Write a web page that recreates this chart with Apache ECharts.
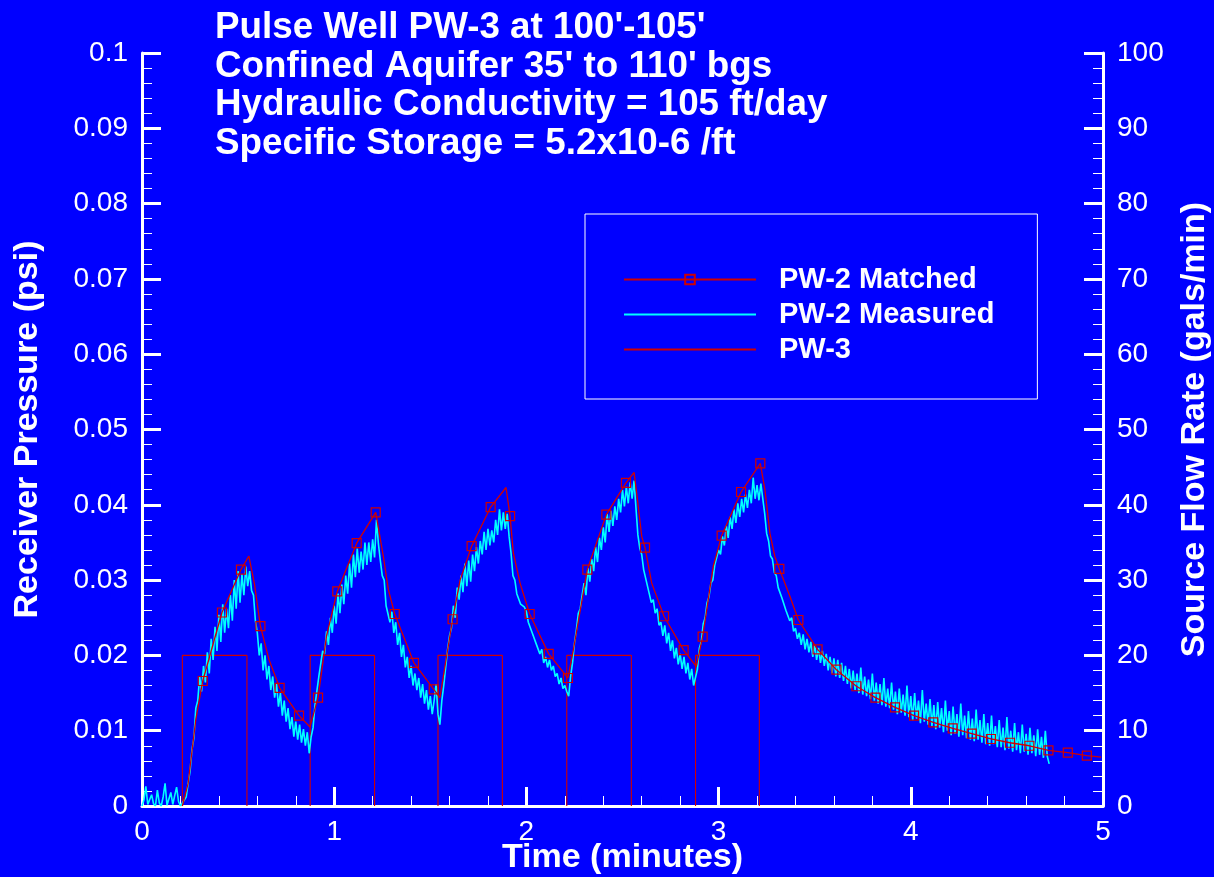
<!DOCTYPE html>
<html><head><meta charset="utf-8">
<script src="https://cdn.jsdelivr.net/npm/echarts@6/dist/echarts.min.js"></script>
<style>html,body{margin:0;padding:0;background:#0000ff}#c{width:1214px;height:877px}</style>
</head><body><div id="c"></div>
<script>
const FONT = '"Liberation Sans", Arial, sans-serif';
const titleLines = ["Pulse Well PW-3 at 100'-105'", "Confined Aquifer 35' to 110' bgs", "Hydraulic Conductivity = 105 ft/day", "Specific Storage = 5.2x10-6 /ft"];
const seriesNames = ['PW-2 Matched', 'PW-2 Measured', 'PW-3'];
const xTickLabels = ['0', '1', '2', '3', '4', '5'];
const leftTickLabels = ['0', '0.01', '0.02', '0.03', '0.04', '0.05', '0.06', '0.07', '0.08', '0.09', '0.1'];
const rightTickLabels = ['0', '10', '20', '30', '40', '50', '60', '70', '80', '90', '100'];

// PW-3 source pulses (gals/min)
const pulseStart = [0.21, 0.875, 1.54, 2.21, 2.88];
const pulseEnd = [0.546, 1.21, 1.875, 2.546, 3.212];
const pulseRate = [20, 20, 20, 20, 20];

// PW-2 matched curve (minutes, psi, 1 = marker shown)
const matchedT = [0.21,0.24,0.28,0.316,0.416,0.515,0.556,0.585,0.616,0.66,0.716,0.817,0.874,0.916,0.96,1.016,1.117,1.216,1.226,1.256,1.282,1.315,1.415,1.518,1.55,1.616,1.655,1.715,1.814,1.894,1.915,1.932,1.967,2.017,2.116,2.216,2.244,2.317,2.416,2.518,2.56,2.574,2.6,2.617,2.652,2.716,2.818,2.884,2.917,2.972,3.016,3.117,3.217,3.226,3.241,3.267,3.293,3.316,3.372,3.415,3.515,3.613,3.717,3.816,3.918,4.017,4.117,4.218,4.317,4.417,4.516,4.617,4.716,4.817,4.916,4.99];
const matchedP = [0,0.0030,0.0115,0.0166,0.0257,0.0314,0.0332,0.0295,0.0239,0.0195,0.0157,0.0120,0.0105,0.0144,0.0226,0.0285,0.0349,0.0390,0.0392,0.0331,0.0287,0.0255,0.0190,0.0155,0.0144,0.0248,0.0300,0.0345,0.0397,0.0423,0.0385,0.0336,0.0296,0.0255,0.0202,0.0170,0.0207,0.0314,0.0387,0.0429,0.0443,0.0415,0.0358,0.0343,0.0296,0.0252,0.0207,0.0185,0.0225,0.0318,0.0359,0.0417,0.0455,0.0456,0.0420,0.0362,0.0331,0.0315,0.0278,0.0247,0.0208,0.0181,0.0159,0.0144,0.0131,0.0120,0.0111,0.0103,0.0096,0.0089,0.0084,0.0080,0.0074,0.0071,0.0067,0.0065];
const matchedMark = [0,0,0,1,1,1,0,0,1,0,1,1,0,1,0,1,1,1,0,0,0,1,1,1,0,1,0,1,1,0,1,0,0,1,1,1,0,1,1,1,0,0,0,1,0,1,1,0,1,0,1,1,1,0,0,0,0,1,0,1,1,1,1,1,1,1,1,1,1,1,1,1,1,1,1,0];

// PW-2 measured, sampled every 0.01 minute from t = 0
const measuredStart = 0, measuredStep = 0.01;
const measuredP = [
/*0.00*/0.0000,0.0008,0.0026,0.0002,0.0000,0.0015,0.0003,0.0000,0.0021,0.0004,
/*0.10*/0.0000,0.0012,0.0030,0.0001,0.0000,0.0018,0.0002,0.0000,0.0025,0.0006,
/*0.20*/0.0000,0.0004,0.0002,0.0012,0.0030,0.0046,0.0075,0.0090,0.0130,0.0140,
/*0.30*/0.0172,0.0152,0.0186,0.0164,0.0204,0.0176,0.0222,0.0194,0.0238,0.0206,
/*0.40*/0.0254,0.0218,0.0268,0.0230,0.0262,0.0236,0.0280,0.0246,0.0300,0.0262,
/*0.50*/0.0312,0.0270,0.0308,0.0280,0.0318,0.0292,0.0312,0.0286,0.0280,0.0246,
/*0.60*/0.0230,0.0200,0.0216,0.0180,0.0200,0.0168,0.0186,0.0154,0.0172,0.0144,
/*0.70*/0.0162,0.0132,0.0150,0.0120,0.0140,0.0112,0.0130,0.0102,0.0118,0.0092,
/*0.80*/0.0112,0.0088,0.0108,0.0084,0.0102,0.0080,0.0098,0.0070,0.0092,0.0104,
/*0.90*/0.0134,0.0136,0.0172,0.0174,0.0206,0.0202,0.0232,0.0214,0.0250,0.0230,
/*1.00*/0.0266,0.0242,0.0282,0.0256,0.0294,0.0268,0.0306,0.0282,0.0322,0.0290,
/*1.10*/0.0334,0.0304,0.0342,0.0310,0.0338,0.0314,0.0350,0.0320,0.0350,0.0324,
/*1.20*/0.0354,0.0330,0.0380,0.0348,0.0326,0.0306,0.0300,0.0266,0.0266,0.0244,
/*1.30*/0.0258,0.0230,0.0244,0.0214,0.0230,0.0198,0.0214,0.0184,0.0198,0.0170,
/*1.40*/0.0186,0.0160,0.0176,0.0154,0.0170,0.0144,0.0162,0.0136,0.0154,0.0128,
/*1.50*/0.0146,0.0122,0.0140,0.0162,0.0122,0.0108,0.0140,0.0160,0.0184,0.0208,
/*1.60*/0.0226,0.0236,0.0266,0.0250,0.0290,0.0274,0.0306,0.0284,0.0322,0.0292,
/*1.70*/0.0326,0.0298,0.0334,0.0312,0.0344,0.0322,0.0352,0.0334,0.0364,0.0340,
/*1.80*/0.0368,0.0346,0.0366,0.0350,0.0380,0.0360,0.0394,0.0366,0.0390,0.0368,
/*1.90*/0.0388,0.0358,0.0336,0.0306,0.0300,0.0282,0.0284,0.0268,0.0266,0.0264,
/*2.00*/0.0258,0.0244,0.0246,0.0230,0.0232,0.0216,0.0218,0.0202,0.0208,0.0190,
/*2.10*/0.0198,0.0184,0.0194,0.0180,0.0186,0.0172,0.0176,0.0162,0.0170,0.0156,
/*2.20*/0.0160,0.0152,0.0146,0.0172,0.0190,0.0216,0.0234,0.0256,0.0262,0.0280,
/*2.30*/0.0296,0.0280,0.0316,0.0298,0.0328,0.0312,0.0344,0.0324,0.0356,0.0340,
/*2.40*/0.0370,0.0350,0.0388,0.0364,0.0392,0.0372,0.0398,0.0380,0.0408,0.0390,
/*2.50*/0.0420,0.0398,0.0424,0.0402,0.0430,0.0408,0.0432,0.0396,0.0360,0.0342,
/*2.60*/0.0334,0.0314,0.0314,0.0292,0.0294,0.0270,0.0274,0.0256,0.0262,0.0240,
/*2.70*/0.0244,0.0226,0.0240,0.0216,0.0230,0.0206,0.0220,0.0196,0.0210,0.0188,
/*2.80*/0.0202,0.0182,0.0198,0.0176,0.0190,0.0168,0.0182,0.0160,0.0158,0.0182,
/*2.90*/0.0210,0.0218,0.0242,0.0250,0.0270,0.0278,0.0296,0.0300,0.0320,0.0318,
/*3.00*/0.0340,0.0334,0.0358,0.0346,0.0372,0.0356,0.0384,0.0368,0.0394,0.0376,
/*3.10*/0.0402,0.0384,0.0408,0.0390,0.0414,0.0396,0.0420,0.0402,0.0436,0.0408,
/*3.20*/0.0426,0.0406,0.0428,0.0408,0.0388,0.0362,0.0352,0.0332,0.0328,0.0310,
/*3.30*/0.0306,0.0290,0.0292,0.0276,0.0274,0.0260,0.0260,0.0246,0.0250,0.0232,
/*3.40*/0.0236,0.0222,0.0230,0.0214,0.0228,0.0208,0.0222,0.0204,0.0218,0.0198,
/*3.50*/0.0214,0.0194,0.0210,0.0190,0.0206,0.0186,0.0202,0.0180,0.0198,0.0176,
/*3.60*/0.0196,0.0172,0.0194,0.0170,0.0190,0.0166,0.0186,0.0162,0.0182,0.0156,
/*3.70*/0.0180,0.0154,0.0176,0.0150,0.0184,0.0148,0.0172,0.0146,0.0168,0.0142,
/*3.80*/0.0176,0.0140,0.0164,0.0136,0.0162,0.0134,0.0170,0.0132,0.0156,0.0130,
/*3.90*/0.0164,0.0128,0.0152,0.0122,0.0156,0.0124,0.0148,0.0120,0.0160,0.0118,
/*4.00*/0.0146,0.0114,0.0150,0.0116,0.0140,0.0110,0.0154,0.0112,0.0136,0.0108,
/*4.10*/0.0142,0.0106,0.0134,0.0102,0.0138,0.0104,0.0130,0.0098,0.0140,0.0100,
/*4.20*/0.0126,0.0094,0.0132,0.0096,0.0122,0.0092,0.0136,0.0094,0.0120,0.0090,
/*4.30*/0.0126,0.0088,0.0116,0.0086,0.0128,0.0088,0.0114,0.0084,0.0122,0.0082,
/*4.40*/0.0110,0.0080,0.0120,0.0082,0.0106,0.0078,0.0114,0.0078,0.0104,0.0074,
/*4.50*/0.0118,0.0076,0.0100,0.0072,0.0110,0.0074,0.0098,0.0070,0.0108,0.0072,
/*4.60*/0.0096,0.0068,0.0104,0.0070,0.0094,0.0066,0.0102,0.0068,0.0092,0.0064,
/*4.70*/0.0100,0.0066,0.0056
];

const RED = '#d00000', CYAN = '#00ffff', WHITE = '#ffffff';

const measuredData = measuredP.map((p, i) => [+(measuredStart + i * measuredStep).toFixed(2), p]);
const matchedData = matchedT.map((t, i) => ({ value: [t, matchedP[i]], symbol: matchedMark[i] ? 'rect' : 'none' }));
const pulseData = [];
pulseStart.forEach((s, i) => {
  pulseData.push([s, 0], [s, pulseRate[i]], [pulseEnd[i], pulseRate[i]], [pulseEnd[i], 0], [pulseEnd[i], null]);
});

function axisCommon() {
  return {
    nameMoveOverlap: false,
    axisLine: { show: true, onZero: false, lineStyle: { color: WHITE, width: 3 } },
    axisTick: { show: true, inside: true, length: 19, lineStyle: { color: WHITE, width: 3 } },
    minorTick: { show: true, splitNumber: 5, length: 10, lineStyle: { color: WHITE, width: 1 } },
    splitLine: { show: false },
    minorSplitLine: { show: false }
  };
}
const nameStyle = { color: WHITE, fontFamily: FONT, fontSize: 34, fontWeight: 'bold' };
const labelStyle = { color: WHITE, fontFamily: FONT, fontSize: 28, showMinLabel: true, showMaxLabel: true };
const hiddenSymbol = { color: 'transparent', borderColor: 'transparent', borderWidth: 0 };

const chart = echarts.init(document.getElementById('c'), null, { renderer: 'canvas' });
chart.setOption({
  backgroundColor: '#0000ff',
  animation: false,
  title: {
    text: titleLines.join('\n'),
    left: 210, top: 4,
    textStyle: { color: WHITE, fontFamily: FONT, fontSize: 36.8, fontWeight: 'bold', lineHeight: 38.5 }
  },
  legend: {
    data: [
      { name: seriesNames[0] },
      { name: seriesNames[1], itemStyle: hiddenSymbol },
      { name: seriesNames[2], itemStyle: hiddenSymbol }
    ],
    orient: 'vertical',
    left: 585, top: 214,
    padding: [51, 43, 35, 38],
    itemGap: 6,
    itemWidth: 132, itemHeight: 12,
    borderColor: WHITE, borderWidth: 1,
    selectedMode: false,
    textStyle: { color: WHITE, fontFamily: FONT, fontSize: 29, fontWeight: 'bold', padding: [0, 0, 0, 18] }
  },
  grid: { left: 142, right: 111, top: 53, bottom: 71, containLabel: false, outerBoundsMode: 'none' },
  xAxis: Object.assign(axisCommon(), {
    type: 'value', min: 0, max: 5, interval: 1,
    name: 'Time (minutes)', nameLocation: 'middle', nameGap: 35, nameTextStyle: nameStyle,
    axisLabel: Object.assign({ margin: 12, formatter: v => xTickLabels[Math.round(v)] }, labelStyle)
  }),
  yAxis: [
    Object.assign(axisCommon(), {
      type: 'value', position: 'left', min: 0, max: 0.1, interval: 0.01,
      name: 'Receiver Pressure (psi)', nameLocation: 'middle', nameGap: 97, nameTextStyle: nameStyle,
      axisLabel: Object.assign({ margin: 14, formatter: v => leftTickLabels[Math.round(v / 0.01)] }, labelStyle)
    }),
    Object.assign(axisCommon(), {
      type: 'value', position: 'right', min: 0, max: 100, interval: 10,
      name: 'Source Flow Rate (gals/min)', nameLocation: 'middle', nameGap: 75, nameTextStyle: nameStyle,
      axisLabel: Object.assign({ margin: 14, formatter: v => rightTickLabels[Math.round(v / 10)] }, labelStyle)
    })
  ],
  series: [
    {
      name: seriesNames[0], type: 'line', yAxisIndex: 0, data: matchedData, z: 4,
      symbol: 'rect', symbolSize: 9, showSymbol: true, showAllSymbol: true,
      lineStyle: { color: RED, width: 1.3 },
      itemStyle: { color: 'transparent', borderColor: RED, borderWidth: 1.2 },
      emphasis: { disabled: true }
    },
    {
      name: seriesNames[1], type: 'line', yAxisIndex: 0, data: measuredData, z: 3,
      symbol: 'none', lineStyle: { color: CYAN, width: 1.6 }, itemStyle: { color: CYAN },
      emphasis: { disabled: true }
    },
    {
      name: seriesNames[2], type: 'line', yAxisIndex: 1, data: pulseData, z: 2,
      symbol: 'none', connectNulls: false, lineStyle: { color: RED, width: 1.1 }, itemStyle: { color: RED },
      emphasis: { disabled: true }
    }
  ]
});
</script>
</body></html>
